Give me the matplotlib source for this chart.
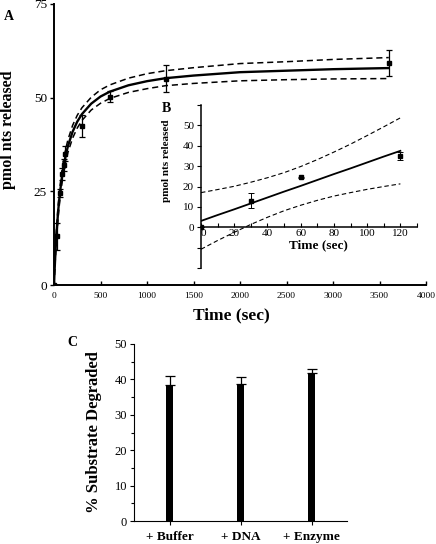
import matplotlib
matplotlib.use("Agg")
import matplotlib.pyplot as plt
from matplotlib.ticker import MultipleLocator

plt.rcParams['font.family'] = ['Liberation Serif', 'DejaVu Serif']

# Panel A: measured points
time_pts = [0, 30, 60, 90, 105, 120, 300, 600, 1200, 3600]
nts_pts = [0, 13.0, 24.5, 29.6, 32.0, 35.0, 42.5, 50.3, 55.1, 59.3]
nts_err = [0, 3.6, 1.0, 1.5, 1.5, 2.0, 3.0, 1.5, 3.5, 3.4]

# Panel A: fitted curve and confidence band
fit_t = [0, 5, 10, 20, 30, 45, 60, 80, 100, 125, 150, 200, 250, 300, 400, 500,
         600, 800, 1000, 1200, 1500, 2000, 2500, 3000, 3600]
fit_y = [0, 3.1, 5.9, 10.8, 14.8, 19.8, 23.7, 27.9, 31.2, 34.5, 37.1, 40.9, 43.6,
         45.6, 48.4, 50.3, 51.6, 53.3, 54.4, 55.2, 55.9, 56.8, 57.2, 57.6, 57.9]
fit_hi = [0, 3.6, 6.8, 12.1, 16.3, 21.4, 25.4, 29.6, 32.9, 36.2, 38.8, 42.6, 45.3,
          47.3, 50.1, 52.1, 53.4, 55.2, 56.4, 57.2, 58.0, 59.1, 59.6, 60.2, 60.7]
fit_lo = [0, 2.6, 5.0, 9.5, 13.3, 18.2, 22.0, 26.2, 29.5, 32.8, 35.4, 39.2, 41.9,
          43.9, 46.7, 48.5, 49.8, 51.4, 52.4, 53.2, 53.8, 54.5, 54.8, 55.0, 55.1]

# Panel B: early time points and linear fit
b_t = [0, 30, 60, 120]
b_y = [0, 13.0, 24.5, 35.0]
b_err = [0, 3.6, 0.4, 2.0]
b_fit_t = [0, 10, 20, 30, 40, 50, 60, 70, 80, 90, 100, 110, 120]
b_fit_y = [3.1, 6.0, 8.8, 11.7, 14.6, 17.5, 20.3, 23.2, 26.1, 28.9, 31.8, 34.7, 37.5]
b_fit_hi = [17.0, 18.5, 20.1, 22.1, 24.3, 26.8, 29.8, 33.2, 36.9, 40.8, 45.0, 49.3, 53.7]
b_fit_lo = [-10.8, -6.5, -2.5, 1.4, 4.9, 8.1, 10.8, 13.2, 15.3, 17.0, 18.6, 20.0, 21.3]

# Panel C: bars
conditions = ['+ Buffer', '+ DNA', '+ Enzyme']
degraded = [38.5, 38.8, 41.9]
degraded_err = [2.5, 1.9, 1.0]

W, H = 436, 544
fig = plt.figure(figsize=(W / 100, H / 100), dpi=100)


def box(x0, y0, x1, y1):
    # pixel box (top-left origin) -> figure fraction rect
    return [x0 / W, 1 - y1 / H, (x1 - x0) / W, (y1 - y0) / H]


def ftext(x, y, s, **kw):
    fig.text(x / W, 1 - y / H, s, ha='center', va='center', **kw)


# ---- Panel A ----
ax = fig.add_axes(box(54, 4, 426, 285))
ax.plot(fit_t, fit_y, color='black', lw=1.7, zorder=3)
ax.plot(fit_t, fit_hi, color='black', lw=1.1, ls=(0, (4, 2.5)))
ax.plot(fit_t, fit_lo, color='black', lw=1.1, ls=(0, (4, 2.5)))
ax.errorbar(time_pts, nts_pts, yerr=nts_err, fmt='s', ms=3.5, color='black',
            ecolor='black', elinewidth=0.9, capsize=2.5, capthick=0.9, zorder=4)
ax.set_xlim(0, 4000)
ax.set_ylim(0, 75)
ax.set_xticks(range(0, 4001, 500))
ax.set_yticks([0, 25, 50, 75])
for s in ['top', 'right']:
    ax.spines[s].set_visible(False)
ax.spines['left'].set_linewidth(1.4)
ax.spines['bottom'].set_linewidth(1.4)
ax.tick_params(axis='x', direction='in', length=3, width=1, labelsize=6.8, pad=5)
ax.tick_params(axis='y', direction='out', length=3, width=1, labelsize=9.5, pad=2)
ax.set_facecolor('none')
ftext(231, 315, 'Time (sec)', fontsize=12.5, fontweight='bold')
ftext(8, 130, 'pmol nts released', fontsize=11.5, fontweight='bold', rotation=90)
ftext(9, 17, 'A', fontsize=10, fontweight='bold')

# ---- Panel B (inset) ----
axb = fig.add_axes(box(201, 105, 417, 268))
axb.plot(b_fit_t, b_fit_y, color='black', lw=1.3)
axb.plot(b_fit_t, b_fit_hi, color='black', lw=0.8, ls=(0, (4, 2.5)))
axb.plot(b_fit_t, b_fit_lo, color='black', lw=0.8, ls=(0, (4, 2.5)))
axb.errorbar(b_t, b_y, yerr=b_err, fmt='s', ms=2.5, color='black', ecolor='black',
             elinewidth=0.7, capsize=2, capthick=0.7, zorder=4)
axb.set_xlim(0, 130)
axb.set_ylim(-20, 60)
axb.spines['bottom'].set_position(('data', 0))
for s in ['top', 'right']:
    axb.spines[s].set_visible(False)
axb.spines['left'].set_linewidth(1.1)
axb.spines['bottom'].set_linewidth(1.1)
axb.set_xticks(range(0, 121, 20))
axb.xaxis.set_minor_locator(MultipleLocator(10))
axb.set_yticks(range(-20, 61, 10))
axb.set_yticklabels(['', ''] + [str(v) for v in range(0, 51, 10)] + [''])
axb.tick_params(axis='x', which='both', direction='in', length=3, width=0.8,
                labelsize=8, pad=1.5)
axb.tick_params(axis='y', direction='out', length=3, width=0.8, labelsize=8, pad=2)
axb.get_xticklabels()[0].set_horizontalalignment('left')
axb.set_facecolor('none')
ftext(318, 245, 'Time (sec)', fontsize=9.5, fontweight='bold')
ftext(166, 161, 'pmol nts released', fontsize=8, fontweight='bold', rotation=90)
ftext(166, 108, 'B', fontsize=10, fontweight='bold')

# ---- Panel C ----
axc = fig.add_axes(box(134, 344, 347, 521))
xpos = [0.5, 1.5, 2.5]
axc.bar(xpos, degraded, width=0.085, color='black',
        yerr=[[0, 0, 0], degraded_err], ecolor='black',
        error_kw=dict(elinewidth=0.9, capsize=3.5, capthick=0.9))
axc.set_xlim(0, 3)
axc.set_ylim(0, 50)
axc.set_xticks(xpos)
axc.set_xticklabels(conditions, fontsize=9.5, fontweight='bold')
axc.set_yticks(range(0, 51, 10))
axc.yaxis.set_minor_locator(MultipleLocator(5))
for s in ['top', 'right']:
    axc.spines[s].set_visible(False)
axc.tick_params(axis='x', direction='out', length=3, width=0.8, pad=4.5)
axc.tick_params(axis='y', which='major', direction='out', length=3, width=0.8,
                labelsize=9, pad=2)
axc.tick_params(axis='y', which='minor', direction='out', length=2, width=0.8)
ftext(94, 432, '% Substrate Degraded', fontsize=12, fontweight='bold', rotation=90)
ftext(72, 343, 'C', fontsize=10, fontweight='bold')

fig.savefig('out.png', dpi=100)
